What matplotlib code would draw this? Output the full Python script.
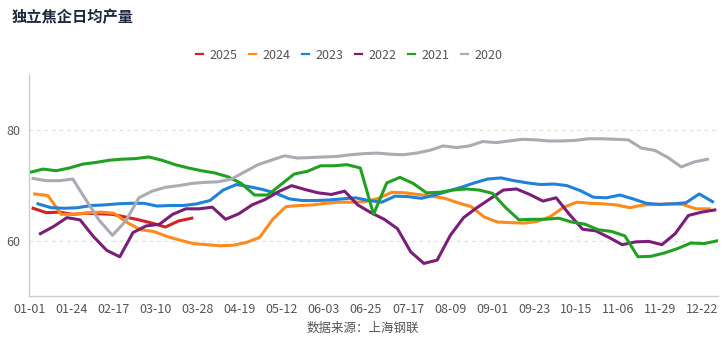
import matplotlib

matplotlib.use("Agg")
import matplotlib.pyplot as plt
import numpy as np
from matplotlib.lines import Line2D

plt.rcParams["font.family"] = ["Noto Sans CJK SC", "DejaVu Sans"]

# weekly values; start offsets are in weeks from 01-01
years = ["2025", "2024", "2023", "2022", "2021", "2020"]
start_week = [0.26, 0.38, 0.63, 0.81, 0.0, 0.26]

y2025 = [65.9, 65.1, 65.2, 64.8, 65.0, 64.9, 64.8, 64.3, 63.8, 63.2, 62.5, 63.6, 64.1]

y2024 = [68.5, 68.2, 64.8, 64.8, 65.1, 65.2, 65.0, 63.3, 62.0, 61.7,
         60.8, 60.1, 59.5, 59.3, 59.1, 59.2, 59.7, 60.6, 63.9, 66.2,
         66.4, 66.5, 66.8, 67.0, 67.0, 67.1, 67.7, 68.8, 68.7, 68.4,
         68.1, 67.7, 66.9, 66.2, 64.3, 63.4, 63.3, 63.2, 63.5, 64.4,
         66.1, 67.0, 66.8, 66.7, 66.5, 66.0, 66.5, 66.6, 66.7, 66.6,
         65.8, 65.8]

y2023 = [66.7, 66.0, 65.9, 66.0, 66.4, 66.5, 66.7, 66.8, 66.8, 66.3,
         66.4, 66.4, 66.7, 67.3, 69.2, 70.2, 69.8, 69.3, 68.6, 67.6,
         67.3, 67.3, 67.4, 67.6, 67.8, 67.3, 67.0, 68.1, 68.0, 67.7,
         68.3, 69.0, 69.7, 70.5, 71.2, 71.4, 70.9, 70.5, 70.2, 70.3,
         70.0, 69.1, 67.9, 67.8, 68.3, 67.6, 66.8, 66.6, 66.7, 66.9,
         68.5, 67.1]

y2022 = [61.3, 62.6, 64.2, 63.8, 60.8, 58.3, 57.1, 61.5, 62.7, 63.0,
         64.8, 65.8, 65.8, 66.1, 63.9, 64.9, 66.5, 67.5, 68.9, 70.0,
         69.3, 68.7, 68.4, 69.0, 66.5, 65.1, 63.9, 62.2, 58.0, 55.9,
         56.5, 61.0, 64.2, 66.0, 67.6, 69.2, 69.4, 68.4, 67.2, 67.8,
         64.8, 62.1, 61.8, 60.6, 59.3, 59.8, 59.9, 59.3, 61.3, 64.6,
         65.2, 65.6]

y2021 = [72.4, 73.0, 72.7, 73.2, 73.9, 74.2, 74.6, 74.8, 74.9, 75.2,
         74.6, 73.8, 73.2, 72.7, 72.3, 71.6, 70.4, 68.3, 68.3, 70.2,
         72.1, 72.6, 73.6, 73.6, 73.8, 73.2, 64.8, 70.5, 71.5, 70.4,
         68.7, 68.8, 69.2, 69.4, 69.2, 68.6, 66.0, 63.8, 63.9, 63.9,
         64.1, 63.4, 63.0, 62.0, 61.7, 60.9, 57.1, 57.2, 57.8, 58.6,
         59.6, 59.5, 60.0]

y2020 = [71.3, 70.9, 70.9, 71.2, 67.4, 63.7, 61.0, 63.6, 67.8, 69.0,
         69.7, 70.0, 70.4, 70.6, 70.7, 71.2, 72.5, 73.8, 74.6, 75.4,
         75.0, 75.1, 75.2, 75.3, 75.6, 75.8, 75.9, 75.7, 75.6, 75.9,
         76.4, 77.2, 76.9, 77.2, 78.0, 77.8, 78.1, 78.4, 78.3, 78.1,
         78.1, 78.2, 78.5, 78.5, 78.4, 78.3, 76.8, 76.4, 75.1, 73.4,
         74.3, 74.8]

tick_labels = ["01-01", "01-24", "02-17", "03-10", "03-28", "04-19", "05-12",
               "06-03", "06-25", "07-17", "08-09", "09-01", "09-23", "10-15",
               "11-06", "11-29", "12-22"]

colors = ["#d42222", "#ff8a1c", "#2181d8", "#7a1e78", "#21a121", "#ababb3"]
series = [y2025, y2024, y2023, y2022, y2021, y2020]

fig = plt.figure(figsize=(7.26, 3.47), dpi=100)
ax = fig.add_axes([0.040, 0.147, 0.949, 0.636])

for name, vals, x0, c in zip(years, series, start_week, colors):
    x = x0 + np.arange(len(vals))
    ax.plot(x, vals, color=c, lw=2.2, solid_joinstyle="round")

ax.set_xlim(-0.05, 52.05)
ax.set_ylim(50, 90)
ax.set_yticks([60, 80])
ax.set_xticks(np.linspace(0, 50.86, len(tick_labels)))
ax.set_xticklabels(tick_labels)
ax.tick_params(axis="both", length=0, labelsize=9, colors="#555555")
ax.tick_params(axis="y", pad=6)
ax.tick_params(axis="x", pad=5)
ax.grid(axis="y", ls=(0, (3, 3)), color="#e0e0e0", lw=0.9)
for side in ["top", "right"]:
    ax.spines[side].set_visible(False)
for side in ["left", "bottom"]:
    ax.spines[side].set_color("#cccccc")
    ax.spines[side].set_linewidth(1.0)

fig.text(0.016, 0.950, "独立焦企日均产量", fontsize=11, fontweight="bold",
         color="#1b2840", ha="left", va="center")

handles = [Line2D([], [], color=c, lw=1.6) for c in colors]
fig.legend(handles, years, loc="center", bbox_to_anchor=(0.481, 0.841), ncol=6,
           frameon=False, fontsize=9, handlelength=0.55, handletextpad=0.5,
           columnspacing=0.95, labelcolor="#555555")
fig.text(0.5, 0.055, "数据来源：上海钢联", fontsize=9, color="#555555",
         ha="center", va="center")

fig.savefig("out.png", dpi=100)
